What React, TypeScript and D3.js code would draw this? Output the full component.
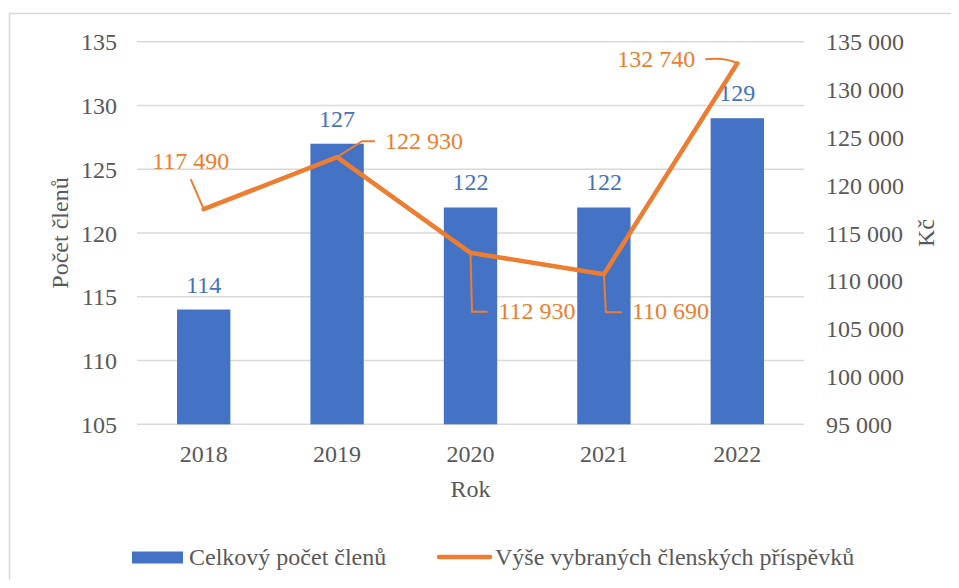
import React, { useEffect, useRef } from "react";
import * as d3 from "d3";

const years = ["2018", "2019", "2020", "2021", "2022"];
const members = [114, 127, 122, 122, 129];
const fees = [117490, 122930, 112930, 110690, 132740];
const leftTicks = [105, 110, 115, 120, 125, 130, 135];
const rightTicks = [95000, 100000, 105000, 110000, 115000, 120000, 125000, 130000, 135000];

// label placement relative to the line point (style only)
const feeLabelPlacement = [
  { dx: -13, dy: -40, anchor: "middle", leader: [[-13, -30], [0, 0]], curve: false },
  { dx: 48, dy: -8, anchor: "start", leader: [[0, 0], [25, -16], [38, -16]], curve: false },
  { dx: 28, dy: 66, anchor: "start", leader: [[0, 0], [1.5, 59], [17, 59]], curve: false },
  { dx: 28, dy: 45, anchor: "start", leader: [[0, 0], [2, 38], [18, 38]], curve: false },
  { dx: -42, dy: 4, anchor: "end", leader: [[-32, -4], [0, 0]], curve: true },
];

const W = 959;
const H = 588;
const plot = { left: 137, right: 804, top: 41.7, bottom: 424.3 };
const GRAY = "#595959";
const BLUE = "#4472C4";
const ORANGE = "#ED7D31";
const FS = 24;
const FF = "Tinos";

const fmt = (v: number) => d3.format(",")(v).replace(/,/g, " ");

export default function App() {
  const ref = useRef<SVGSVGElement>(null);

  useEffect(() => {
    const svg = d3.select(ref.current);
    svg.selectAll("*").remove();

    const x = d3.scaleBand().domain(years).range([plot.left, plot.right]).paddingInner(0.6).paddingOuter(0.3);
    const xc = (y: string) => (x(y) as number) + x.bandwidth() / 2;
    const yL = d3.scaleLinear().domain([105, 135]).range([plot.bottom, plot.top]);
    const yR = d3.scaleLinear().domain([95000, 135000]).range([plot.bottom, plot.top]);

    const txt = (g: any, xx: number, yy: number, s: string, color: string, anchor = "start") =>
      g
        .append("text")
        .attr("x", xx)
        .attr("y", yy)
        .attr("font-size", FS)
        .attr("font-family", FF)
        .style("font-family", FF)
        .attr("fill", color)
        .attr("text-anchor", anchor)
        .text(s);

    svg
      .append("rect")
      .attr("x", 9.5)
      .attr("y", 13.5)
      .attr("width", 1000)
      .attr("height", 700)
      .attr("fill", "#fff")
      .attr("stroke", "#d9d9d9")
      .attr("stroke-width", 1.5);

    leftTicks.forEach((t) => {
      svg
        .append("line")
        .attr("x1", plot.left)
        .attr("x2", plot.right)
        .attr("y1", yL(t))
        .attr("y2", yL(t))
        .attr("stroke", "#d9d9d9")
        .attr("stroke-width", 1.5);
      txt(svg, 117, yL(t) + 8.5, String(t), GRAY, "end");
    });
    rightTicks.forEach((t) => txt(svg, 826, yR(t) + 8.5, fmt(t), GRAY, "start"));

    members.forEach((m, i) => {
      svg
        .append("rect")
        .attr("x", x(years[i]) as number)
        .attr("width", x.bandwidth())
        .attr("y", yL(m))
        .attr("height", yL(105) - yL(m))
        .attr("fill", BLUE);
      txt(svg, xc(years[i]), yL(m) - 17, String(m), BLUE, "middle");
    });
    years.forEach((yr) => txt(svg, xc(yr), 462, yr, GRAY, "middle"));

    const line = d3
      .line<number>()
      .x((_, i) => xc(years[i]))
      .y((d) => yR(d));
    svg
      .append("path")
      .attr("d", line(fees) || "")
      .attr("fill", "none")
      .attr("stroke", ORANGE)
      .attr("stroke-width", 4.5)
      .attr("stroke-linejoin", "round")
      .attr("stroke-linecap", "round");

    fees.forEach((v, i) => {
      const px = xc(years[i]);
      const py = yR(v);
      const p = feeLabelPlacement[i];
      let d: string;
      if (p.curve) {
        const [a, b] = p.leader;
        d = `M${px + a[0]},${py + a[1]} Q${px + (a[0] + b[0]) / 2 + 4},${py + a[1] - 2} ${px + b[0]},${py + b[1]}`;
      } else {
        d = "M" + p.leader.map((q) => `${px + q[0]},${py + q[1]}`).join(" L");
      }
      svg.append("path").attr("d", d).attr("fill", "none").attr("stroke", ORANGE).attr("stroke-width", 2);
      txt(svg, px + p.dx, py + p.dy, fmt(v), ORANGE, p.anchor);
    });

    const cy = (plot.top + plot.bottom) / 2;
    txt(svg, 0, 0, "Počet členů", GRAY, "middle").attr("transform", `translate(68,${cy}) rotate(-90)`);
    txt(svg, 0, 0, "Kč", GRAY, "middle").attr("transform", `translate(934,${cy}) rotate(-90)`);
    txt(svg, (plot.left + plot.right) / 2, 497, "Rok", GRAY, "middle");

    svg.append("rect").attr("x", 132).attr("y", 551.5).attr("width", 51).attr("height", 12).attr("fill", BLUE);
    txt(svg, 189, 565, "Celkový počet členů", GRAY);
    svg
      .append("line")
      .attr("x1", 439)
      .attr("x2", 490)
      .attr("y1", 557)
      .attr("y2", 557)
      .attr("stroke", ORANGE)
      .attr("stroke-width", 4.5)
      .attr("stroke-linecap", "round");
    txt(svg, 495, 565, "Výše vybraných členských příspěvků", GRAY);
  }, []);

  return (
    <div style={{ margin: -8 }}>
      <svg ref={ref} width={W} height={H} style={{ display: "block" }} />
    </div>
  );
}
